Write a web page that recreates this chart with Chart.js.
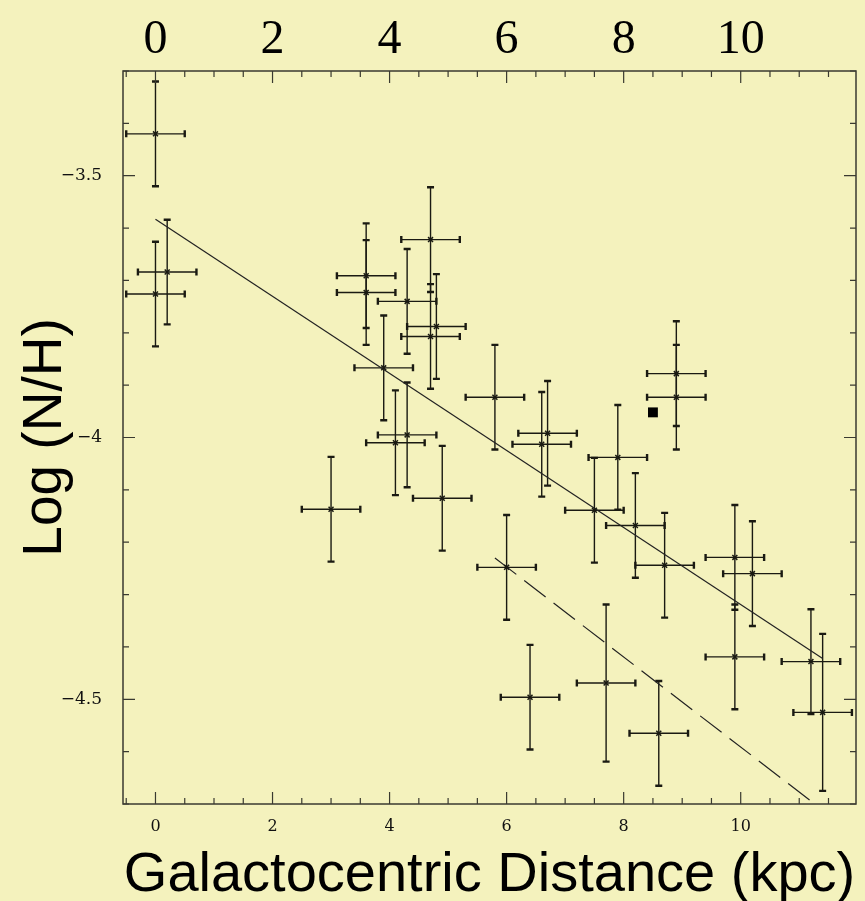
<!DOCTYPE html>
<html>
<head>
<meta charset="utf-8">
<title>Log (N/H) vs Galactocentric Distance</title>
<script src="https://cdn.jsdelivr.net/npm/chart.js@4.4.1/dist/chart.umd.min.js"></script>
<style>
  html, body { margin: 0; padding: 0; background: #f4f2bd; }
  #wrap { width: 865px; height: 901px; }
</style>
</head>
<body>
<div id="wrap"><canvas id="nhChart"></canvas></div>
<script>
// H II region nitrogen abundances across the disk
const distKpc = [0, 0.2, 0, 3.0, 3.6, 3.6, 3.9, 4.1, 4.3, 4.3, 4.7, 4.7, 4.8, 4.9, 5.8, 6.0,
                 6.4, 6.6, 6.7, 7.5, 7.7, 7.9, 8.2, 8.6, 8.7, 8.9, 8.9, 9.9, 9.9, 10.2, 11.2, 11.4];
const logNH = [-3.42, -3.684, -3.726, -4.137, -3.691, -3.723, -3.867, -4.01, -3.74, -3.995,
               -3.622, -3.807, -3.788, -4.116, -3.923, -4.248, -4.496, -4.013, -3.992, -4.139,
               -4.469, -4.038, -4.168, -4.565, -4.244, -3.878, -3.923, -4.229, -4.419, -4.26,
               -4.428, -4.525];
const distErr = [0.5, 0.5, 0.5, 0.5, 0.5, 0.5, 0.5, 0.5, 0.5, 0.5, 0.5, 0.5, 0.5, 0.5, 0.5, 0.5,
                 0.5, 0.5, 0.5, 0.5, 0.5, 0.5, 0.5, 0.5, 0.5, 0.5, 0.5, 0.5, 0.5, 0.5, 0.5, 0.5];
const logErr = [0.1, 0.1, 0.1, 0.1, 0.1, 0.1, 0.1, 0.1, 0.1, 0.1, 0.1, 0.1, 0.1, 0.1, 0.1, 0.1,
                0.1, 0.1, 0.1, 0.1, 0.15, 0.1, 0.1, 0.1, 0.1, 0.1, 0.1, 0.1, 0.1, 0.1, 0.1, 0.15];

// gradient fits
const fitX = [0, 11.4];
const fitY = [-3.583, -4.422];
const steepX = [5.8, 11.3];
const steepY = [-4.23, -4.703];

// solar value
const sunX = [8.5];
const sunY = [-3.952];

const xTicks = [0, 2, 4, 6, 8, 10];
const yTicks = [-3.5, -4, -4.5];

const X_MIN = -0.555, X_MAX = 11.97;
const Y_MIN = -4.70, Y_MAX = -3.30;

const ink = '#1a1a12';

const toPoints = (xs, ys) => xs.map((v, i) => ({ x: v, y: ys[i] }));

// error bars under the markers, frame ticks pointing inward on top
const errorFrame = {
  id: 'errorFrame',
  beforeDatasetsDraw(chart) {
    const { ctx, scales: { x, y } } = chart;
    ctx.save();
    ctx.strokeStyle = ink;
    distKpc.forEach((d, i) => {
      const px = x.getPixelForValue(d);
      const py = y.getPixelForValue(logNH[i]);
      const xl = x.getPixelForValue(d - distErr[i]);
      const xr = x.getPixelForValue(d + distErr[i]);
      const yt = y.getPixelForValue(logNH[i] + logErr[i]);
      const yb = y.getPixelForValue(logNH[i] - logErr[i]);
      ctx.lineWidth = 1.4;
      ctx.beginPath();
      ctx.moveTo(xl, py); ctx.lineTo(xr, py);
      ctx.moveTo(px, yt); ctx.lineTo(px, yb);
      ctx.stroke();
      ctx.lineWidth = 2.4;
      ctx.beginPath();
      ctx.moveTo(xl, py - 3.5); ctx.lineTo(xl, py + 3.5);
      ctx.moveTo(xr, py - 3.5); ctx.lineTo(xr, py + 3.5);
      ctx.moveTo(px - 3.5, yt); ctx.lineTo(px + 3.5, yt);
      ctx.moveTo(px - 3.5, yb); ctx.lineTo(px + 3.5, yb);
      ctx.stroke();
    });
    ctx.restore();
  },
  afterDraw(chart) {
    const { ctx, chartArea: a, scales: { x, y } } = chart;
    ctx.save();
    ctx.strokeStyle = '#3a3a30';
    ctx.lineWidth = 1.5;
    ctx.strokeRect(a.left, a.top, a.right - a.left, a.bottom - a.top);
    ctx.lineWidth = 1.2;
    ctx.beginPath();
    for (let v = -0.5; v <= 11.51; v += 0.5) {
      const px = x.getPixelForValue(v);
      const len = Math.abs(v % 2) < 0.01 ? 12 : 6;
      ctx.moveTo(px, a.bottom); ctx.lineTo(px, a.bottom - len);
      ctx.moveTo(px, a.top); ctx.lineTo(px, a.top + len);
    }
    for (let v = -4.7; v <= -3.29; v += 0.1) {
      const py = y.getPixelForValue(v);
      const r = Math.round(v * 10);
      const len = r % 5 === 0 ? 12 : 6;
      ctx.moveTo(a.left, py); ctx.lineTo(a.left + len, py);
      ctx.moveTo(a.right, py); ctx.lineTo(a.right - len, py);
    }
    ctx.stroke();
    ctx.restore();
  }
};

const fixTicks = values => scale => { scale.ticks = values.map(v => ({ value: v })); };
const minus = v => String(v).replace('-', '\u2212');

new Chart(document.getElementById('nhChart'), {
  type: 'scatter',
  data: {
    datasets: [
      {
        data: toPoints(distKpc, logNH),
        pointStyle: 'crossRot',
        pointRadius: 3.5,
        borderColor: ink,
        borderWidth: 1.5
      },
      {
        data: toPoints(sunX, sunY),
        pointStyle: 'rect',
        pointRadius: 7,
        backgroundColor: '#000',
        borderWidth: 0
      },
      {
        type: 'line',
        data: toPoints(fitX, fitY),
        borderColor: '#222',
        borderWidth: 1.2,
        pointRadius: 0
      },
      {
        type: 'line',
        data: toPoints(steepX, steepY),
        borderColor: '#222',
        borderWidth: 1.2,
        borderDash: [27, 10],
        pointRadius: 0
      }
    ]
  },
  options: {
    responsive: true,
    maintainAspectRatio: false,
    animation: false,
    layout: { padding: { right: 9 } },
    plugins: { legend: { display: false }, tooltip: { enabled: false } },
    scales: {
      x: {
        type: 'linear',
        position: 'bottom',
        min: X_MIN,
        max: X_MAX,
        afterBuildTicks: fixTicks(xTicks),
        afterFit: s => { s.height = 97; },
        grid: { display: false },
        border: { display: false },
        ticks: {
          autoSkip: false, maxRotation: 0, padding: 5, color: '#111',
          font: { family: 'DejaVu Serif', size: 16 }
        },
        title: {
          display: true,
          text: 'Galactocentric Distance (kpc)',
          color: '#000',
          font: { family: 'Liberation Sans', size: 56, lineHeight: 0.9 },
          padding: { top: 0, bottom: 0 }
        }
      },
      xTop: {
        type: 'linear',
        axis: 'x',
        position: 'top',
        min: X_MIN,
        max: X_MAX,
        afterBuildTicks: fixTicks(xTicks),
        afterFit: s => { s.height = 71; },
        grid: { display: false },
        border: { display: false },
        ticks: {
          autoSkip: false, maxRotation: 0, padding: -6, color: '#000',
          font: { family: 'Liberation Serif', size: 48 }
        }
      },
      y: {
        type: 'linear',
        position: 'left',
        min: Y_MIN,
        max: Y_MAX,
        afterBuildTicks: fixTicks(yTicks),
        afterFit: s => { s.width = 123; },
        grid: { display: false },
        border: { display: false },
        ticks: {
          padding: 13, color: '#111',
          font: { family: 'DejaVu Serif', size: 17 },
          callback: v => minus(v)
        },
        title: {
          display: true,
          text: 'Log (N/H)',
          color: '#000',
          font: { family: 'Liberation Sans', size: 55, lineHeight: 1 },
          padding: { top: 18, bottom: 0 }
        }
      }
    }
  },
  plugins: [errorFrame]
});
</script>
</body>
</html>
